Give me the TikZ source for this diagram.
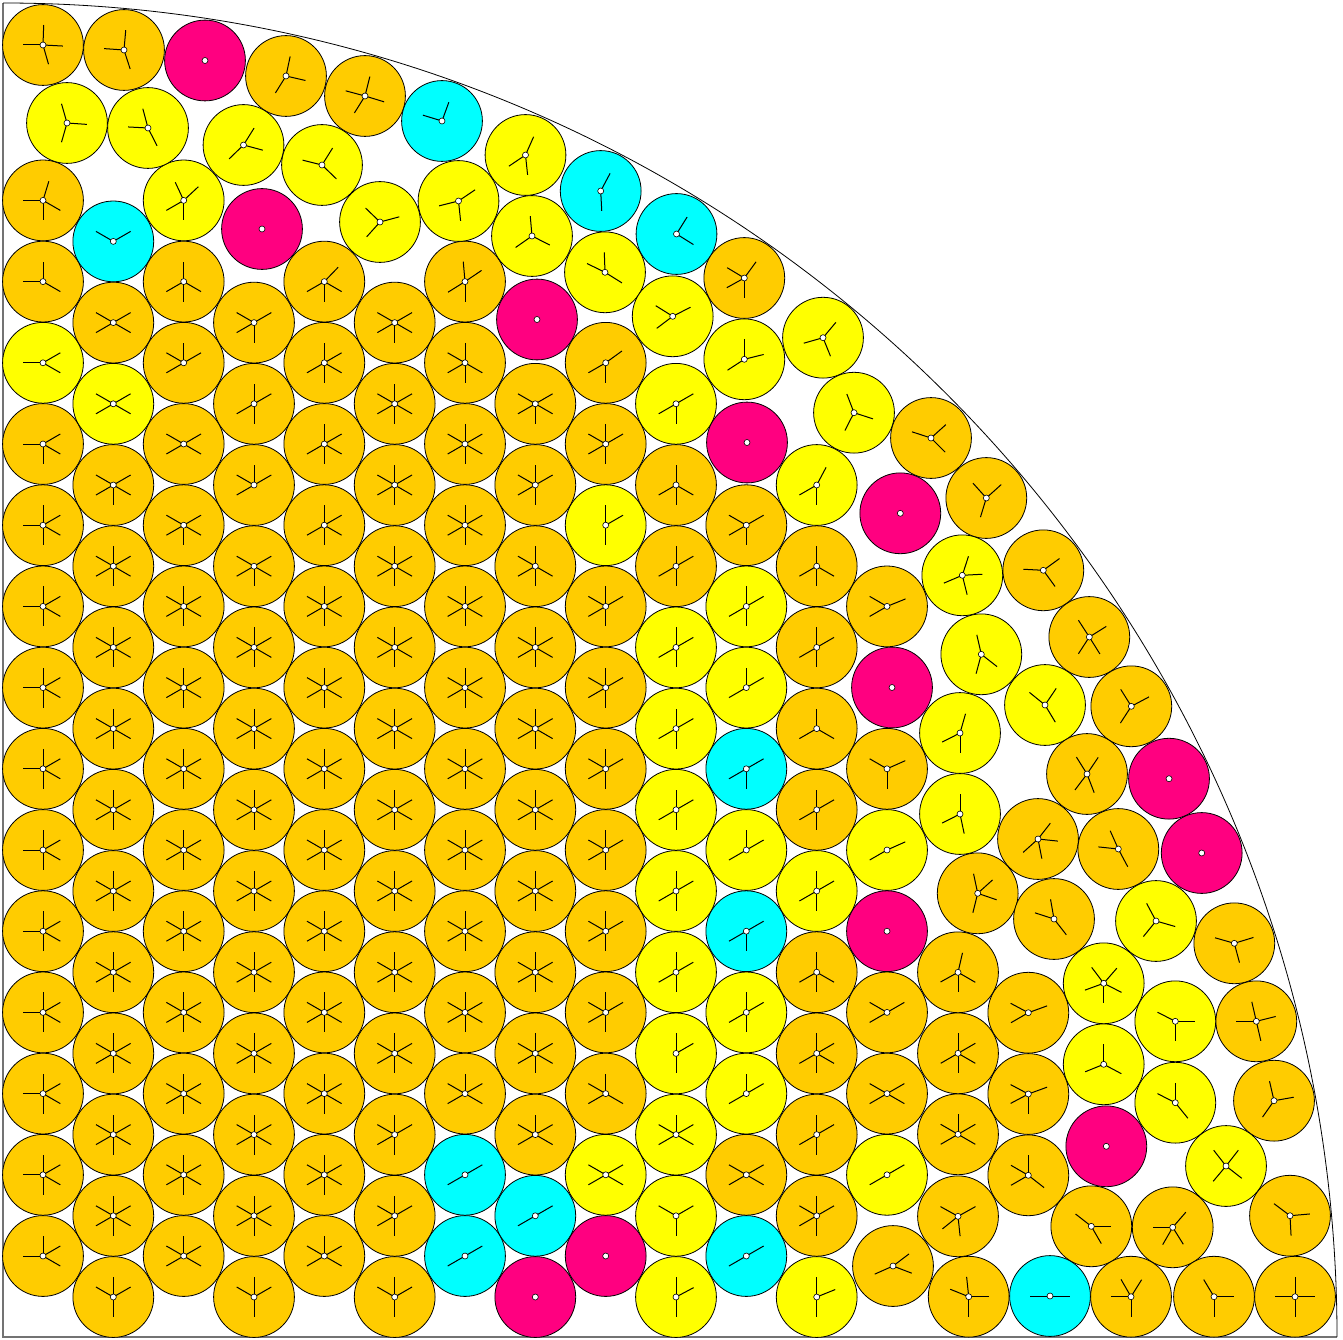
\documentclass[tikz,border=0pt]{standalone}
\definecolor{dOrange}{RGB}{255,204,0}
\definecolor{dYellow}{RGB}{255,255,0}
\definecolor{dCyan}{RGB}{0,255,255}
\definecolor{dMag}{RGB}{255,0,128}
\tikzset{
  diskO/.style={fill=dOrange},
  diskY/.style={fill=dYellow},
  diskC/.style={fill=dCyan},
  diskM/.style={fill=dMag},
  rim/.style={draw=black,line width=0.8pt},
  spoke/.style={draw=black,line width=1pt},
  hub/.style={fill=white,draw=black,line width=0.6pt},
  wall/.style={draw=black!55,line width=1.3pt},
  arcwall/.style={draw=black,line width=0.8pt}
}
\newcommand\dk[4]{%
  \path[#3,rim] (#1pt,-#2pt) circle (40.4pt);
  \foreach \a in {#4} {\draw[spoke] (#1pt,-#2pt) -- ++(\a:20pt);}
  \path[hub] (#1pt,-#2pt) circle (3pt);}
\newcommand\mg[2]{%
  \path[diskM,rim] (#1pt,-#2pt) circle (40.4pt);
  \path[hub] (#1pt,-#2pt) circle (3pt);}
\newcommand\sx[2]{\dk{#1}{#2}{diskO}{90,30,150,210,-30,-90}}
\newcommand\fv[2]{\dk{#1}{#2}{diskO}{90,180,30,-30,-90}}
\begin{document}
\begin{tikzpicture}
\useasboundingbox (0pt,0pt) rectangle (1343pt,-1340pt);
\path[fill=white] (0pt,0pt) rectangle (1343pt,-1340pt);
% walls
\draw[wall] (3pt,-3pt) -- (3pt,-1337pt) -- (1337pt,-1337pt);
\draw[arcwall] (3pt,-3pt) arc[start angle=90,end angle=0,radius=1334pt];
% column 0
\dk{43}{45}{diskO}{88,180,-3,-74}
\dk{43}{200.4}{diskO}{73,180,-30,-90}
\dk{43}{281.6}{diskO}{90,180,-30}
\dk{43}{362.8}{diskY}{180,30,-30}
\dk{43}{444}{diskO}{180,30,-30,-90}
\fv{43}{525.2}\fv{43}{606.4}\fv{43}{687.6}\fv{43}{768.8}\fv{43}{850}
\fv{43}{931.2}\fv{43}{1012.4}\fv{43}{1093.6}\fv{43}{1174.8}
\dk{43}{1256}{diskO}{90,180,30,-30}
% column 1
\dk{113.3}{241.4}{diskC}{150,30}
\dk{113.3}{322.6}{diskO}{150,30,210,-30}
\dk{113.3}{403.8}{diskY}{150,30,210,-30}
\dk{113.3}{485}{diskO}{150,30,210,-30,-90}
\sx{113.3}{566.2}\sx{113.3}{647.4}\sx{113.3}{728.6}\sx{113.3}{809.8}\sx{113.3}{891}
\sx{113.3}{972.2}\sx{113.3}{1053.4}\sx{113.3}{1134.6}\sx{113.3}{1215.8}
\dk{113.3}{1297}{diskO}{90,150,30,-90}
% column 2
\dk{183.7}{200.4}{diskY}{115,43,210,-90}
\dk{183.7}{281.6}{diskO}{90,-30,210,-90}
\dk{183.7}{362.8}{diskO}{90,30,150,210}
\dk{183.7}{444}{diskO}{150,30,210,-30}
\dk{183.7}{525.2}{diskO}{150,30,210,-30,-90}
\sx{183.7}{606.4}\sx{183.7}{687.6}\sx{183.7}{768.8}\sx{183.7}{850}
\sx{183.7}{931.2}\sx{183.7}{1012.4}\sx{183.7}{1093.6}\sx{183.7}{1174.8}
\dk{183.7}{1256}{diskO}{90,150,30,210,-30}
% column 3
\dk{254}{322.6}{diskO}{150,30,210,-90}
\dk{254}{403.8}{diskO}{90,30,210,-90}
\dk{254}{485}{diskO}{90,150,30,210}
\dk{254}{566.2}{diskO}{150,30,210,-30,-90}
\sx{254}{647.4}\sx{254}{728.6}\sx{254}{809.8}\sx{254}{891}
\sx{254}{972.2}\sx{254}{1053.4}\sx{254}{1134.6}\sx{254}{1215.8}
\dk{254}{1297}{diskO}{90,150,30,-90}
% column 4
\dk{324.3}{281.6}{diskO}{46,210,-30,-90}
\dk{324.3}{362.8}{diskO}{90,30,210,-30,-90}
\dk{324.3}{444}{diskO}{90,30,210,-30,-90}
\dk{324.3}{525.2}{diskO}{90,30,210,-30,-90}
\sx{324.3}{606.4}\sx{324.3}{687.6}\sx{324.3}{768.8}\sx{324.3}{850}
\sx{324.3}{931.2}\sx{324.3}{1012.4}\sx{324.3}{1093.6}\sx{324.3}{1174.8}
\dk{324.3}{1256}{diskO}{90,150,30,210,-30}
% column 5
\dk{394.7}{322.6}{diskO}{150,30,210,-30,-90}
\sx{394.7}{403.8}\sx{394.7}{485}\sx{394.7}{566.2}\sx{394.7}{647.4}\sx{394.7}{728.6}
\sx{394.7}{809.8}\sx{394.7}{891}\sx{394.7}{972.2}\sx{394.7}{1053.4}
\dk{394.7}{1134.6}{diskO}{90,150,30,210,-90}
\dk{394.7}{1215.8}{diskO}{90,150,30,210,-90}
\dk{394.7}{1297}{diskO}{90,150,30,-90}
% column 6
\dk{465}{281.6}{diskO}{95,34,212,-90}
\dk{465}{362.8}{diskO}{90,150,210,-30,-90}
\sx{465}{444}\sx{465}{525.2}\sx{465}{606.4}\sx{465}{687.6}\sx{465}{768.8}
\sx{465}{850}\sx{465}{931.2}\sx{465}{1012.4}
\dk{465}{1093.6}{diskO}{90,150,30,210,-30}
\dk{465}{1174.8}{diskC}{30,210}
\dk{465}{1256}{diskC}{30,210}
% column 7
\mg{537}{319.5}
\dk{535.3}{403.8}{diskO}{150,30,210,-30,-90}
\dk{535.3}{485}{diskO}{90,150,30,210,-90}
\dk{535.3}{566.2}{diskO}{90,150,210,-30,-90}
\sx{535.3}{647.4}\sx{535.3}{728.6}\sx{535.3}{809.8}\sx{535.3}{891}
\sx{535.3}{972.2}\sx{535.3}{1053.4}
\dk{535.3}{1134.6}{diskO}{90,150,30,210,-30}
\dk{535.3}{1215.8}{diskC}{30,210}
\mg{535.3}{1297}
% column 8
\dk{605}{272.3}{diskY}{92,154,-32}
\dk{605.7}{362.8}{diskO}{36,210,-90}
\dk{605.7}{444}{diskO}{90,150,30,210,-90}
\dk{605.7}{525.2}{diskY}{90,30,-90}
\dk{605.7}{606.4}{diskO}{90,150,30,210,-90}
\dk{605.7}{687.6}{diskO}{90,150,30,210,-90}
\dk{605.7}{768.8}{diskO}{90,150,30,210,-90}
\dk{605.7}{850}{diskO}{90,150,30,210,-90}
\dk{605.7}{931.2}{diskO}{90,150,30,210,-90}
\dk{605.7}{1012.4}{diskO}{90,150,30,210,-90}
\dk{605.7}{1093.6}{diskO}{90,150,210,-30}
\dk{605.7}{1174.8}{diskY}{150,30,210,-30}
\mg{605.7}{1256}
% column 9
\dk{676}{403.8}{diskY}{30,210,-90}
\dk{676}{485}{diskO}{90,210,-30,-90}
\dk{676}{566.2}{diskO}{90,30,210,-90}
\dk{676}{647.4}{diskY}{90,30,210,-90}
\dk{676}{728.6}{diskY}{90,30,210,-90}
\dk{676}{809.8}{diskY}{90,30,210,-90}
\dk{676}{891}{diskY}{90,30,210,-90}
\dk{676}{972.2}{diskY}{90,30,210,-90}
\dk{676}{1053.4}{diskY}{90,30,-90}
\dk{676}{1134.6}{diskY}{90,150,30,210,-30}
\dk{676}{1215.8}{diskY}{150,30,-90}
\dk{676}{1297}{diskY}{90,28,-90}
% column 10
\mg{747}{442.5}
\dk{746.3}{525.2}{diskO}{150,30,210,-90}
\dk{746.3}{606.4}{diskY}{90,30,210,-90}
\dk{746.3}{687.6}{diskY}{90,30,210}
\dk{746.3}{768.8}{diskC}{30,210,-90}
\dk{746.3}{850}{diskY}{90,30,210}
\dk{746.3}{931.2}{diskC}{30,210,-90}
\dk{746.3}{1012.4}{diskY}{90,30,210,-90}
\dk{746.3}{1093.6}{diskY}{90,30,210}
\dk{746.3}{1174.8}{diskO}{150,30,210,-30}
\dk{746.3}{1256}{diskC}{30,210}
% column 11
\dk{816.7}{485}{diskY}{62,210,-90}
\dk{816.7}{566.2}{diskO}{90,210,-30,-90}
\dk{816.7}{647.4}{diskO}{90,30,210,-90}
\dk{816.7}{728.6}{diskO}{90,210,-30}
\dk{816.7}{809.8}{diskO}{90,30,210,-90}
\dk{816.7}{891}{diskY}{90,30,210,-90}
\dk{816.7}{972.2}{diskO}{90,210,-30,-90}
\dk{816.7}{1053.4}{diskO}{90,210,30,-30,-90}
\dk{816.7}{1134.6}{diskO}{90,30,210,-90}
\dk{816.7}{1215.8}{diskO}{90,150,30,210,-90}
\dk{816.7}{1297}{diskY}{90,22,-90}
% column 12
\dk{887}{606.4}{diskO}{150,210,22}
\mg{892}{687.5}
\dk{887}{768.8}{diskO}{150,24,-90}
\dk{887}{850}{diskY}{24,210}
\mg{887}{931.2}
\dk{887}{1012.4}{diskO}{150,210,30}
\dk{887}{1093.6}{diskO}{150,210,30,-30}
\dk{887}{1174.8}{diskY}{30,210}
\dk{893}{1266}{diskO}{37,-21,204}
% upper region
\dk{124}{50}{diskO}{85,176,-72}
\mg{205}{60.5}
\dk{286}{76}{diskO}{78,-13,238}
\dk{365}{96}{diskO}{76,165,-17,238}
\dk{67}{123}{diskY}{106,-4,254}
\dk{148}{128}{diskY}{105,177,-63}
\dk{243.5}{145}{diskY}{58,-15,224}
\dk{322}{165}{diskY}{58,166,-44}
\dk{442}{121}{diskC}{70,163}
\dk{525.5}{155}{diskY}{66,214,-84}
\dk{458.5}{201}{diskY}{34,-84,194}
\dk{380}{222}{diskY}{136,15,228}
\mg{262}{229}
\dk{600.7}{191}{diskC}{62,-87}
\dk{532}{236}{diskY}{95,215,-27}
\dk{676.5}{234}{diskC}{58,-32}
\dk{744.3}{278}{diskO}{149,54,209,-90}
\dk{672.7}{316.3}{diskY}{148,27,217}
\dk{744.3}{359.3}{diskY}{90,14,213}
\dk{823}{337.7}{diskY}{50,196,-68}
\dk{854}{412.7}{diskY}{111,-18,243}
% right region
\dk{931}{438}{diskO}{42,162,-45}
\mg{900.3}{513.3}
\dk{986.3}{498}{diskO}{132,42,253}
\dk{962.3}{575.3}{diskY}{72,3,203,-76}
\dk{1043.3}{570.3}{diskO}{36,177,-54}
\dk{981.3}{654.3}{diskY}{103,-38,255}
\dk{1089.3}{637}{diskO}{123,32,237,-58}
\dk{1045}{705}{diskY}{141,56,-59}
\dk{1131.3}{706.3}{diskO}{122,28,237}
\dk{960}{733}{diskY}{74,207,-90}
\dk{1087}{774}{diskO}{122,56,233,-69}
\mg{1169}{778.7}
\dk{960}{814}{diskY}{90,207,-78}
\dk{1038}{839}{diskO}{52,-6,222,-79}
\dk{1118.3}{849}{diskO}{114,174,-62}
\mg{1201.7}{853}
\dk{977.7}{893.3}{diskO}{102,42,-19,-104}
\dk{1054}{919}{diskO}{162,100,-52}
\dk{1156}{921}{diskY}{118,-16,231}
\dk{1234.3}{943.3}{diskO}{164,17,-75}
\dk{958}{972.3}{diskO}{77,209,-30,-90}
\dk{1028.3}{1012.7}{diskO}{152,20,210}
\dk{1103.7}{983.3}{diskY}{127,49,200,-27,-90}
\dk{1175.3}{1021.3}{diskY}{153,0,-90}
\dk{1256.3}{1021.3}{diskO}{103,14,180,-77}
\dk{958}{1053.3}{diskO}{90,30,210,-30,-90}
\dk{1028.3}{1094}{diskO}{152,20,208,-90}
\dk{1103.7}{1064.3}{diskY}{90,202,-28}
\dk{1175.3}{1102.7}{diskY}{90,153,-51}
\dk{1274}{1100.7}{diskO}{103,10,235}
\dk{958}{1134.3}{diskO}{90,150,30,210,-30}
\dk{1028.3}{1175.3}{diskO}{90,150,210,-38}
\mg{1106.3}{1146.3}
\dk{1226}{1166}{diskY}{128,52,230,-38}
\dk{958}{1216.3}{diskO}{29,151,219,-84}
\dk{1091.3}{1226.3}{diskO}{142,0,-60}
\dk{1172.7}{1227.3}{diskO}{49,180,240,-58}
\dk{1290}{1215.7}{diskO}{143,5,-87}
\dk{968.7}{1296.7}{diskO}{158,96,0,-90}
\dk{1050}{1296}{diskC}{180,0}
\dk{1131}{1296.7}{diskO}{120,58,180,-90}
\dk{1214}{1296.7}{diskO}{121,0,-90}
\dk{1295}{1296.7}{diskO}{90,180,0,-90}
\end{tikzpicture}
\end{document}
